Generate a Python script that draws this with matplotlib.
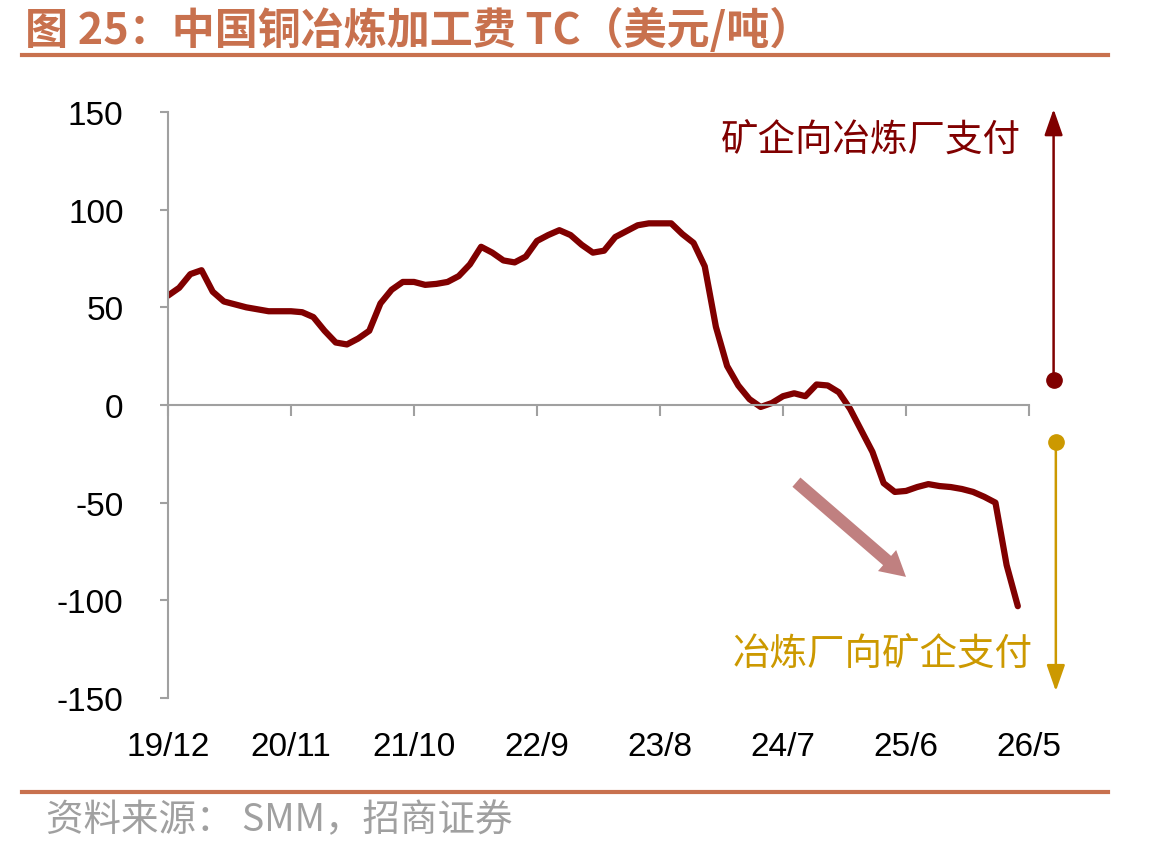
import numpy as np
import matplotlib
matplotlib.use("Agg")
import matplotlib.pyplot as plt

plt.rcParams['font.family'] = ['Liberation Sans', 'Noto Sans CJK SC', 'DejaVu Sans']
plt.rcParams['axes.unicode_minus'] = False

# 月度数据：19/12 起，每月一个点
tick_labels = ['19/12', '20/11', '21/10', '22/9', '23/8', '24/7', '25/6', '26/5']
tick_pos = [0, 11, 22, 33, 44, 55, 66, 77]
tc = [56, 60, 67, 69, 58, 53, 51.5, 50, 49, 48,
      48, 48, 47.5, 45, 38, 32, 31, 34, 38, 52,
      59, 63, 63, 61.5, 62, 63, 66, 72, 81, 78,
      74, 73, 76, 84, 87, 89.5, 87, 82, 78, 79,
      86, 89, 92, 93, 93, 93, 87.5, 83, 71, 40,
      20, 10, 3, -1, 1, 4.5, 6, 4.5, 10.5, 10,
      6.5, -2, -13, -24, -40, -44.5, -44, -42, -40.5, -41.5,
      -42, -43, -44.5, -47, -50, -82, -103]
months = np.arange(len(tc))

dark_red = '#800000'
gold = '#CC9900'
orange = '#C8714E'
gray = '#A0A0A0'
cjk = ['Noto Sans CJK SC', 'DejaVu Sans']

fig = plt.figure(figsize=(11.55, 8.53), dpi=100)
ax = fig.add_axes([168/1155, 1-699/853, (1029-168)/1155, (699-113)/853])

ax.plot(months, tc, color=dark_red, lw=4.5, solid_joinstyle='round', solid_capstyle='round')

ax.set_xlim(0, 77)
ax.set_ylim(-150, 150)
ax.set_yticks([150, 100, 50, 0, -50, -100, -150])
ax.tick_params(axis='y', labelsize=24, length=6, width=1.5, color=gray, pad=26)

for s in ['top', 'right']:
    ax.spines[s].set_visible(False)
ax.spines['left'].set_color(gray)
ax.spines['left'].set_linewidth(1.5)
ax.spines['bottom'].set_position(('data', 0))
ax.spines['bottom'].set_color(gray)
ax.spines['bottom'].set_linewidth(1.5)
ax.set_xticks(tick_pos)
ax.tick_params(axis='x', direction='out', length=8, width=1.5, color=gray, labelbottom=False)

sec = ax.secondary_xaxis(0)
sec.set_xticks(tick_pos)
sec.set_xticklabels(tick_labels)
sec.tick_params(length=0, labelsize=24, pad=24)
sec.spines['bottom'].set_visible(False)

# 右侧说明箭头
ax.annotate('', xy=(79.2, 151.5), xytext=(79.2, 12.8),
            arrowprops=dict(arrowstyle='-|>,head_length=1.0,head_width=0.35', color=dark_red,
                            lw=1.8, mutation_scale=16, shrinkA=0, shrinkB=0),
            annotation_clip=False)
ax.plot([79.2], [12.8], 'o', color=dark_red, ms=11, clip_on=False)
ax.annotate('', xy=(79.4, -146.5), xytext=(79.4, -19),
            arrowprops=dict(arrowstyle='-|>,head_length=1.0,head_width=0.35', color=gold,
                            lw=1.8, mutation_scale=16, shrinkA=0, shrinkB=0),
            annotation_clip=False)
ax.plot([79.4], [-19], 'o', color=gold, ms=11, clip_on=False)

ax.text(49.4, 136, '矿企向冶炼厂支付', color=dark_red, fontsize=27, family=cjk,
        va='center', ha='left')
ax.text(50.5, -127, '冶炼厂向矿企支付', color=gold, fontsize=27, family=cjk,
        va='center', ha='left')

# 粗箭头表示下行
ax.annotate('', xy=(66, -88), xytext=(56.2, -39.5),
            arrowprops=dict(arrowstyle='simple,head_length=0.9,head_width=1.0,tail_width=0.44',
                            color='#C08080', mutation_scale=20, shrinkA=0, shrinkB=0, lw=0))

# 标题与来源
fig.text(25/1155, 1-30/853, '图 25：中国铜冶炼加工费 TC（美元/吨）', color=orange,
         fontsize=31, fontweight='bold', family=cjk, va='center', ha='left')
fig.add_artist(plt.Line2D([22/1155, 1108/1155], [1-56/853, 1-56/853], color=orange, lw=3))
fig.add_artist(plt.Line2D([22/1155, 1108/1155], [1-793/853, 1-793/853], color=orange, lw=3))
fig.text(46/1155, 1-821/853, '资料来源： SMM，招商证券', color=gray, fontsize=27,
         family=cjk, va='center', ha='left')

fig.savefig('out.png', dpi=100)
